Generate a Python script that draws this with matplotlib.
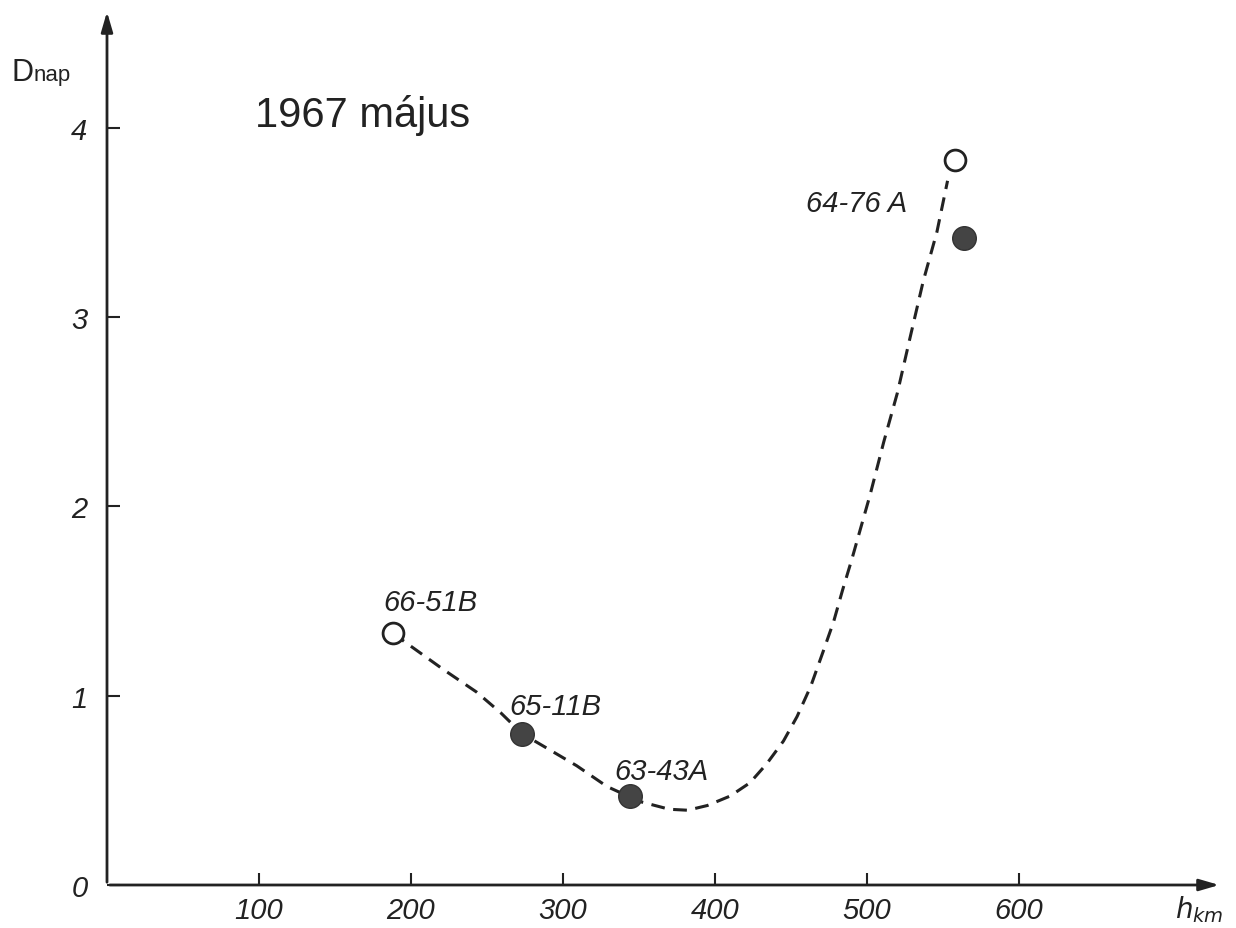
import matplotlib
matplotlib.use("Agg")
import matplotlib.pyplot as plt

# altitude (km) and decay parameter
open_h = [188, 558]
open_d = [1.33, 3.83]
filled_h = [273, 344, 564]
filled_d = [0.80, 0.47, 3.42]

# dashed curve
curve_h = [188, 221, 243, 259, 273, 290, 309, 329, 344, 351, 370, 382, 395, 410, 423,
           434, 445, 454, 463, 471, 478, 484, 490, 502, 511, 520, 528, 537, 546, 553]
curve_d = [1.33, 1.14, 1.02, 0.91, 0.80, 0.72, 0.63, 0.52, 0.465, 0.44, 0.40, 0.395, 0.42, 0.47, 0.54,
           0.64, 0.76, 0.89, 1.05, 1.23, 1.39, 1.56, 1.72, 2.06, 2.34, 2.60, 2.88, 3.19, 3.45, 3.72]

names = ["66-51B", "65-11B", "63-43A", "64-76 A"]
name_h = [182, 265, 334, 460]
name_d = [1.42, 0.87, 0.53, 3.53]

xticks = [100, 200, 300, 400, 500, 600]
yticks = [0, 1, 2, 3, 4]

plt.rcParams['font.family'] = ['Liberation Sans Narrow', 'Liberation Sans', 'DejaVu Sans']

W, H = 1236, 929
fig = plt.figure(figsize=(W / 100, H / 100), dpi=100)
x0, y0 = 107, 886          # pixel position of the origin
sx, sy = 1.52, 189.3       # pixels per km, pixels per unit
ax = fig.add_axes([x0 / W, (H - y0) / H, (W - x0) / W, y0 / H])
ax.set_xlim(0, (W - x0) / sx)
ax.set_ylim(0, y0 / sy)
for s in ax.spines.values():
    s.set_visible(False)

# axes with arrow heads
ax.annotate("", xy=((1222 - x0) / sx, 0), xytext=(0, 0),
            arrowprops=dict(arrowstyle="-|>,head_length=1.2,head_width=0.35", lw=2, color="#222"),
            annotation_clip=False)
ax.annotate("", xy=(0, (y0 - 10) / sy), xytext=(0, 0),
            arrowprops=dict(arrowstyle="-|>,head_length=1.2,head_width=0.35", lw=2, color="#222"),
            annotation_clip=False)

ax.set_xticks(xticks)
ax.set_yticks(yticks)
ax.set_xticklabels([str(t) for t in xticks], fontsize=21, style='italic', color="#222")
ax.set_yticklabels([str(t) for t in yticks], fontsize=21, style='italic', color="#222")
ax.tick_params(direction='in', length=9, width=1.5, color="#222")
ax.tick_params(axis='x', pad=8)
ax.tick_params(axis='y', pad=14)

ax.plot(curve_h, curve_d, ls=(0, (4.5, 2.8)), lw=2.2, color="#222", zorder=2)
ax.plot(filled_h, filled_d, 'o', ms=17, color="#444", mec="#333", zorder=3)
ax.plot(open_h, open_d, 'o', ms=15, mfc="white", mec="#222", mew=2, zorder=3)

for n, h, d in zip(names, name_h, name_d):
    ax.text(h, d, n, fontsize=21, style='italic', color="#222", va='bottom', ha='left')

fig.text(12 / W, 1 - 73 / H, "D", fontsize=22, color="#222", va='center', ha='left')
fig.text(34 / W, 1 - 75 / H, "nap", fontsize=16, color="#222", va='center', ha='left')
fig.text(255 / W, 1 - 115 / H, "1967 május", fontsize=30, color="#222", va='center', ha='left')
fig.text(1175 / W, 1 - 910 / H, "$h_{km}$", fontsize=20, color="#222", va='center', ha='left')

fig.savefig("out.png", dpi=100, facecolor="white")
